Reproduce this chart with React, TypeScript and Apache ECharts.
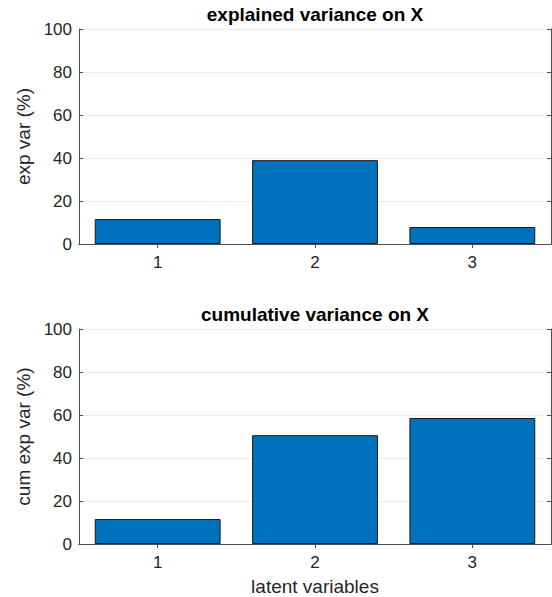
import React, { useEffect, useRef } from "react";
import * as echarts from "echarts";

const categories = ["1", "2", "3"];
const explainedVar = [11.6, 39.0, 7.9];
const cumulativeVar = [11.6, 50.6, 58.6];
const yTicks = { min: 0, max: 100, interval: 20 };
const titles = ["explained variance on X", "cumulative variance on X"];
const yNames = ["exp var (%)", "cum exp var (%)"];
const xName = "latent variables";

const FONT = "'Liberation Sans', Arial, Helvetica, sans-serif";
const AXIS_COLOR = "#4d4d4d";
const TEXT_COLOR = "#262626";

export default function App() {
  const ref = useRef<HTMLDivElement>(null);
  useEffect(() => {
    if (!ref.current) return;
    const chart = echarts.init(ref.current, undefined, { renderer: "svg" });
    const grids = [
      { left: 79, top: 29, width: 472, height: 215 },
      { left: 79, top: 329, width: 472, height: 215 },
    ];
    const xAxes: any[] = [];
    const yAxes: any[] = [];
    grids.forEach((g, i) => {
      xAxes.push({
        type: "category",
        gridIndex: i,
        data: categories,
        position: "bottom",
        name: i === 1 ? xName : "",
        nameLocation: "middle",
        nameGap: 33,
        nameTextStyle: { fontFamily: FONT, fontSize: 19, color: TEXT_COLOR },
        axisLine: { show: true, lineStyle: { color: AXIS_COLOR, width: 1 } },
        axisTick: { show: true, inside: true, alignWithLabel: true, length: 4, lineStyle: { color: AXIS_COLOR } },
        axisLabel: { fontFamily: FONT, fontSize: 17, color: TEXT_COLOR, margin: 10 },
        splitLine: { show: false },
      });
      xAxes.push({
        type: "category",
        gridIndex: i,
        data: categories,
        position: "top",
        axisLine: { show: true, lineStyle: { color: AXIS_COLOR, width: 1 } },
        axisTick: { show: true, inside: true, alignWithLabel: true, length: 4, lineStyle: { color: AXIS_COLOR } },
        axisLabel: { show: false },
        splitLine: { show: false },
      });
      yAxes.push({
        type: "value",
        gridIndex: i,
        position: "left",
        min: yTicks.min,
        max: yTicks.max,
        interval: yTicks.interval,
        name: yNames[i],
        nameLocation: "middle",
        nameGap: 37,
        nameTextStyle: { fontFamily: FONT, fontSize: 19, color: TEXT_COLOR },
        axisLine: { show: true, lineStyle: { color: AXIS_COLOR, width: 1 } },
        axisTick: { show: true, inside: true, length: 4, lineStyle: { color: AXIS_COLOR } },
        axisLabel: { fontFamily: FONT, fontSize: 17, color: TEXT_COLOR, margin: 7 },
        splitLine: { show: true, lineStyle: { color: "#dadada", type: "dotted", width: 1 } },
      });
      yAxes.push({
        type: "value",
        gridIndex: i,
        position: "right",
        min: yTicks.min,
        max: yTicks.max,
        interval: yTicks.interval,
        axisLine: { show: true, lineStyle: { color: AXIS_COLOR, width: 1 } },
        axisTick: { show: true, inside: true, length: 4, lineStyle: { color: AXIS_COLOR } },
        axisLabel: { show: false },
        splitLine: { show: false },
      });
    });
    const barStyle = { color: "#0072BD", borderColor: "#1a1a1a", borderWidth: 1 };
    chart.setOption({
      animation: false,
      backgroundColor: "#ffffff",
      title: titles.map((t, i) => ({
        text: t,
        left: 315,
        top: i === 0 ? 5 : 305,
        textAlign: "center",
        padding: 0,
        textStyle: { fontFamily: FONT, fontSize: 19, fontWeight: "bold", color: "#000000" },
      })),
      grid: grids,
      xAxis: xAxes,
      yAxis: yAxes,
      series: [
        { type: "bar", xAxisIndex: 0, yAxisIndex: 0, data: explainedVar, barCategoryGap: "20%", itemStyle: barStyle },
        { type: "bar", xAxisIndex: 2, yAxisIndex: 2, data: cumulativeVar, barCategoryGap: "20%", itemStyle: barStyle },
      ],
    });
    return () => chart.dispose();
  }, []);
  return (
    <div
      ref={ref}
      style={{ position: "fixed", left: 0, top: 0, width: 552, height: 597, background: "#fff" }}
    />
  );
}
